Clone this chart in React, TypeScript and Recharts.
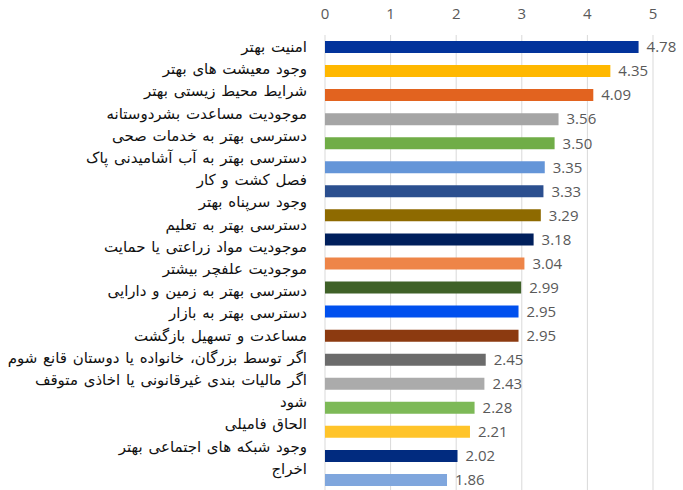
import React from "react";
import { BarChart, Bar, XAxis, YAxis, CartesianGrid, Cell, LabelList } from "recharts";

const categories: string[] = [
  "امنیت بهتر",
  "وجود معیشت های بهتر",
  "شرایط محیط زیستی بهتر",
  "موجودیت مساعدت بشردوستانه",
  "دسترسی بهتر به خدمات صحی",
  "دسترسی بهتر به آب آشامیدنی پاک",
  "فصل کشت و کار",
  "وجود سرپناه بهتر",
  "دسترسی بهتر به تعلیم",
  "موجودیت مواد زراعتی یا حمایت",
  "موجودیت علفچر بیشتر",
  "دسترسی بهتر به زمین و دارایی",
  "دسترسی بهتر به بازار",
  "مساعدت و تسهیل بازگشت",
  "اگر توسط بزرگان، خانواده یا دوستان قانع شوم",
  "اگر مالیات بندی غیرقانونی یا اخاذی متوقف\nشود",
  "الحاق فامیلی",
  "وجود شبکه های اجتماعی بهتر",
  "اخراج",
];

const values: number[] = [
  4.78, 4.35, 4.09, 3.56, 3.5, 3.35, 3.33, 3.29, 3.18, 3.04, 2.99, 2.95, 2.95, 2.45, 2.43, 2.28, 2.21, 2.02, 1.86,
];

const xTicks: number[] = [0, 1, 2, 3, 4, 5];

const barColors: string[] = [
  "#02339B", "#FFB800", "#E2631F", "#A5A5A5", "#70AD47", "#6495D8", "#2B4F8F", "#8E6A00", "#001F5C", "#EE8548",
  "#3F6128", "#0050EE", "#8C3A10", "#6B6B6B", "#ABABAB", "#7DB957", "#FFC42A", "#012B7F", "#7FA6DD",
];

const data = categories.map((c, i) => ({ name: c, value: values[i] }));

// number of text lines used by the labels before each category (labels flow as a text block)
const linesBefore: number[] = categories.map((_, i) =>
  categories.slice(0, i).reduce((s, c) => s + c.split("\n").length, 0)
);

const LINE_HEIGHT = 22.2;

const CategoryTick = (props: any) => {
  const { x, y, payload, index, height, visibleTicksCount } = props;
  const lines: string[] = String(payload.value).split("\n");
  const band = Number(height) / Number(visibleTicksCount || categories.length);
  const drift = linesBefore[index] * LINE_HEIGHT - index * band;
  return (
    <g>
      {lines.map((ln, i) => (
        <text
          key={i}
          x={x}
          y={y + drift + i * LINE_HEIGHT}
          dy={5}
          textAnchor="end"
          fill="#111"
          fontSize={15}
          wordSpacing={1}
          fontFamily="'DejaVu Sans', serif"
        >
          {ln}
        </text>
      ))}
    </g>
  );
};

export default function App() {
  return (
    <div style={{ position: "absolute", left: 0, top: 0, background: "#fff" }}>
      <BarChart
        width={683}
        height={492}
        data={data}
        layout="vertical"
        margin={{ top: 5, right: 30, bottom: 0, left: 0 }}
        barCategoryGap={0}
      >
        <CartesianGrid horizontal={false} vertical={true} stroke="#D9D9D9" />
        <XAxis
          type="number"
          orientation="top"
          domain={[0, 5]}
          ticks={xTicks}
          height={30}
          axisLine={false}
          tickLine={false}
          tickSize={0}
          tickMargin={16}
          tick={{ fill: "#595959", fontSize: 15, fontFamily: "'Open Sans', sans-serif" }}
        />
        <YAxis
          type="category"
          dataKey="name"
          width={325}
          axisLine={false}
          tickLine={false}
          tickSize={0}
          tickMargin={18}
          interval={0}
          tick={<CategoryTick />}
        />
        <Bar dataKey="value" barSize={12} isAnimationActive={false}>
          {data.map((d, i) => (
            <Cell key={i} fill={barColors[i]} />
          ))}
          <LabelList
            dataKey="value"
            position="right"
            offset={8}
            fill="#595959"
            fontSize={15}
            fontFamily="'Open Sans', sans-serif"
            formatter={(v: any) => Number(v).toFixed(2)}
          />
        </Bar>
      </BarChart>
    </div>
  );
}
